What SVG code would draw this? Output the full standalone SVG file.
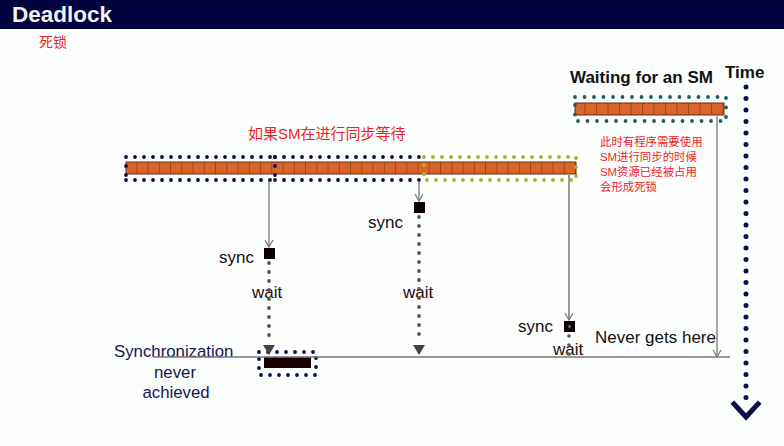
<svg xmlns="http://www.w3.org/2000/svg" width="784" height="446" viewBox="0 0 784 446">
<style>
  .t{font-family:"Liberation Sans",Arial,sans-serif;fill:#111;}
  .b{font-weight:bold;}
  .red{font-family:"Liberation Sans","Noto Sans CJK SC",sans-serif;fill:#ee1c24;}
  .dotN{fill:none;stroke:#0d0d4a;stroke-width:3.8;stroke-linecap:round;stroke-dasharray:0 9;}
  .dotG{fill:none;stroke:#9db52a;stroke-width:3.8;stroke-linecap:round;stroke-dasharray:0 9;}
  .dotT{fill:none;stroke:#1f5c5c;stroke-width:3.8;stroke-linecap:round;stroke-dasharray:0 9.5;}
  .wait{fill:none;stroke:#555;stroke-width:3.8;stroke-linecap:round;stroke-dasharray:0 9;}
  .conn{fill:none;stroke:#777;stroke-width:1.3;}
  .open{fill:none;stroke:#777;stroke-width:1.2;}
  .sq{fill:#0a0000;}
</style>
<defs>
  <pattern id="cells" x="126" y="0" width="11.25" height="20" patternUnits="userSpaceOnUse">
    <rect width="11.25" height="20" fill="#d9652b"/>
    <line x1="11.25" y1="0" x2="11.25" y2="20" stroke="#6b2a10" stroke-width="1"/>
  </pattern>
  <pattern id="cells2" x="574" y="0" width="11.5" height="20" patternUnits="userSpaceOnUse">
    <rect width="11.5" height="20" fill="#d9652b"/>
    <line x1="11.5" y1="0" x2="11.5" y2="20" stroke="#6b2a10" stroke-width="1"/>
  </pattern>
</defs>
<rect width="784" height="446" fill="#fcfefe"/>

<g id="title">
  <rect x="0" y="0" width="784" height="29" fill="#03033f"/>
  <text x="12" y="22" class="t b" style="fill:#f2f2f2" font-size="22.5">Deadlock</text>
  <text x="39" y="47" class="red" font-size="14">死锁</text>
</g>

<g id="main-bar">
  <text x="248" y="139" class="red" font-size="15">如果SM在进行同步等待</text>
  <rect x="126" y="162" width="450" height="12" fill="url(#cells)" stroke="#6b2a10" stroke-width="1"/>
  <path class="dotN" d="M126,157 H275 M126,157 V180 M126,180 H275 M275,157 V180"/>
  <path class="dotN" d="M275,157 H423 M275,180 H423"/>
  <path class="dotG" d="M424,157 H576 V180 H424 V157"/>
</g>

<g id="sm-bar">
  <text x="570" y="83" class="t b" font-size="17">Waiting for an SM</text>
  <rect x="575" y="103" width="149" height="12" fill="url(#cells2)" stroke="#6b2a10" stroke-width="1"/>
  <path class="dotT" d="M575,97 H726 V121 H575 Z"/>
  <text x="600" y="146" class="red" font-size="11.4">此时有程序需要使用</text>
  <text x="600" y="161" class="red" font-size="11.4">SM进行同步的时候</text>
  <text x="600" y="176" class="red" font-size="11.4">SM资源已经被占用</text>
  <text x="600" y="191" class="red" font-size="11.4">会形成死锁</text>
</g>

<g id="time">
  <text x="725" y="78" class="t b" font-size="17">Time</text>
  <path d="M746,87 V405" fill="none" stroke="#0d0d4a" stroke-width="5" stroke-linecap="round" stroke-dasharray="0 11.5"/>
  <path d="M734,404 L746,417 L758,404" fill="none" stroke="#0d0d4a" stroke-width="5" stroke-linecap="square"/>
</g>

<g id="sync1">
  <rect class="sq" x="264" y="248" width="11" height="11"/>
  <text x="219" y="263" class="t" font-size="17">sync</text>
  <text x="252" y="298" class="t" font-size="17" style="fill:#2a0808">wait</text>
</g>
<g id="sync2">
  <rect class="sq" x="414" y="202" width="11" height="11"/>
  <text x="368" y="228" class="t" font-size="17">sync</text>
  <text x="403" y="298" class="t" font-size="17" style="fill:#2a0808">wait</text>
</g>
<g id="sync3">
  <rect class="sq" x="564" y="321" width="11" height="11"/>
  <circle cx="569.5" cy="326.5" r="1.6" fill="#666"/>
  <text x="518" y="332" class="t" font-size="17">sync</text>
  <text x="553" y="355" class="t" font-size="17" style="fill:#2a0808">wait</text>
</g>

<g id="sync-point">
  <rect x="264" y="357" width="47" height="11" fill="#1a0000"/>
  <path class="dotN" d="M259,352 H316 V375 H259 Z"/>
  <text x="114" y="357" class="t" font-size="16.8" style="fill:#161650">Synchronization</text>
  <text x="175" y="378" class="t" font-size="16.8" text-anchor="middle" style="fill:#161650">never</text>
  <text x="176" y="398" class="t" font-size="16.8" text-anchor="middle" style="fill:#161650">achieved</text>
</g>

<g id="never">
  <text x="595" y="343" class="t" font-size="17">Never gets here</text>
</g>

<g id="connectors">
  <line x1="153" y1="357" x2="730" y2="357" stroke="#777" stroke-width="1.3"/>
  <path class="conn" d="M269,181 V247"/>
  <path class="open" d="M265,240 L269,247 L273,240"/>
  <path class="conn" d="M419,181 V201"/>
  <path class="open" d="M415,194 L419,201 L423,194"/>
  <path class="conn" d="M569,175 V320" style="stroke:#999;stroke-width:2"/>
  <path class="open" d="M565,313 L569,320 L573,313"/>
  <path class="conn" d="M717,116 V357"/>
  <path class="open" d="M713,350 L717,357 L721,350"/>
  <path class="wait" d="M269,263 V338"/>
  <path d="M263,345 H275 L269,355 Z" fill="#444"/>
  <path class="wait" d="M419,217 V338"/>
  <path d="M413,345 H425 L419,355 Z" fill="#444"/>
  <path d="M569,336 V356" stroke="#555" stroke-width="3.6" stroke-linecap="round" stroke-dasharray="0 9" fill="none"/>
</g>
</svg>
